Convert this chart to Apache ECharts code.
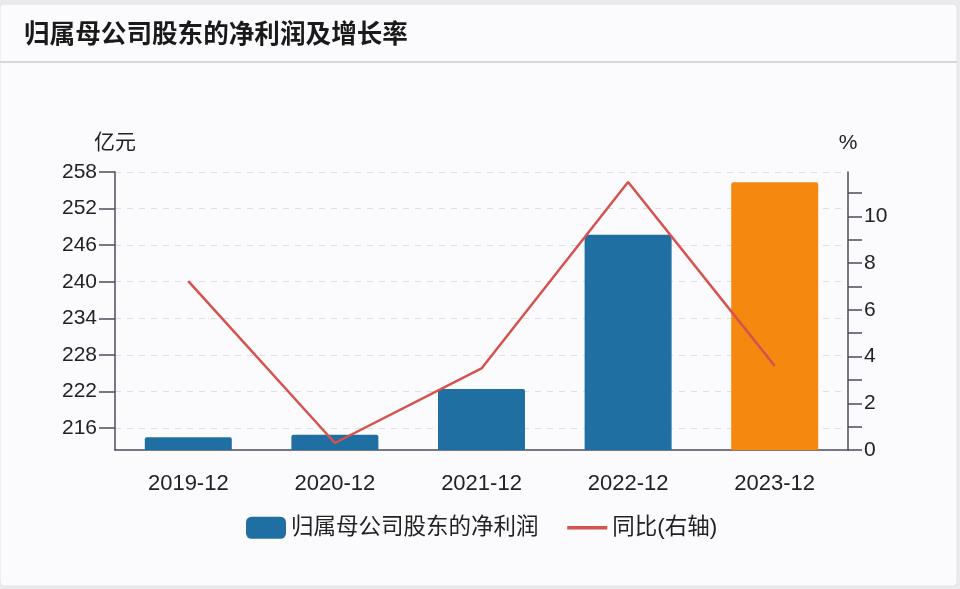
<!DOCTYPE html>
<html>
<head>
<meta charset="utf-8">
<script src="https://cdn.jsdelivr.net/npm/echarts@6/dist/echarts.min.js"></script>
<style>
html,body{margin:0;padding:0;background:#e9eaee;}
#c{width:960px;height:589px;}
</style>
</head>
<body>
<div id="c"></div>
<script>
const categories = ['2019-12', '2020-12', '2021-12', '2022-12', '2023-12'];
const netProfit = [214.5, 214.9, 222.4, 247.7, 256.3];
const yoyGrowth = [7.23, 0.30, 3.49, 11.47, 3.60];
const leftTicks = [216, 222, 228, 234, 240, 246, 252, 258];
const rightTicks = [0, 1, 2, 3, 4, 5, 6, 7, 8, 9, 10, 11];
const rightLabels = [0, 2, 4, 6, 8, 10];
const highlightIndex = 4;

const FONT = '"Liberation Sans", "Noto Sans CJK SC", sans-serif';
const BLUE = '#1f6fa2';
const ORANGE = '#f5890f';
const RED = '#d6524f';
const AXIS = '#4e4c5c';

const chart = echarts.init(document.getElementById('c'));
chart.setOption({
  animation: false,
  backgroundColor: 'transparent',
  textStyle: { fontFamily: FONT },
  graphic: [
    { type: 'rect', silent: true, z: -10, shape: { x: 0, y: 4, width: 957, height: 582, r: 4 },
      style: { fill: '#fbfbfd', stroke: '#e2e3e7', lineWidth: 1 } },
    { type: 'rect', silent: true, z: -9, shape: { x: 0, y: 61, width: 957, height: 2 },
      style: { fill: '#d4d6db' } }
  ],
  title: {
    text: '归属母公司股东的净利润及增长率',
    left: 19, top: 18,
    textStyle: { fontFamily: FONT, fontSize: 25.6, fontWeight: 'bold', color: '#1a1a1a' }
  },
  legend: {
    bottom: 45,
    left: 241,
    itemWidth: 40, itemHeight: 22, itemGap: 27,
    textStyle: { fontFamily: FONT, fontSize: 22.5, color: '#222' },
    data: [
      { name: '归属母公司股东的净利润', icon: 'roundRect' },
      { name: '同比(右轴)', itemStyle: { opacity: 0 }, lineStyle: { width: 3.5 } }
    ]
  },
  grid: { left: 115, right: 112, top: 172, bottom: 139 },
  xAxis: {
    type: 'category',
    data: categories,
    axisLine: { lineStyle: { color: AXIS, width: 1.5 } },
    axisTick: { alignWithLabel: true, length: 15, lineStyle: { color: AXIS, width: 1.5 } },
    axisLabel: { fontFamily: FONT, fontSize: 22, color: '#222', margin: 23 }
  },
  yAxis: [
    {
      type: 'value',
      name: '亿元',
      nameLocation: 'end',
      nameGap: 18,
      nameTextStyle: { fontFamily: FONT, fontSize: 21, color: '#222' },
      min: 212.4, max: 258,
      axisLine: { show: true, lineStyle: { color: AXIS, width: 1.5 } },
      axisTick: { show: true, length: 16, customValues: leftTicks, lineStyle: { color: AXIS, width: 1.5 } },
      axisLabel: { customValues: leftTicks, fontFamily: FONT, fontSize: 21, color: '#222', margin: 18 },
      splitLine: { show: true, lineStyle: { color: '#dcdfe5', type: [6, 6], width: 1 } }
    },
    {
      type: 'value',
      name: '%',
      nameLocation: 'end',
      nameGap: 18,
      nameTextStyle: { fontFamily: FONT, fontSize: 21, color: '#222' },
      min: 0, max: 11.9,
      axisLine: { show: true, lineStyle: { color: AXIS, width: 1.5 } },
      axisTick: { show: true, length: 14, customValues: rightTicks, lineStyle: { color: AXIS, width: 1.5 } },
      axisLabel: { customValues: rightLabels, fontFamily: FONT, fontSize: 21, color: '#222', margin: 16 },
      splitLine: { show: false }
    }
  ],
  series: [
    {
      name: '归属母公司股东的净利润',
      type: 'bar',
      yAxisIndex: 0,
      barWidth: 87,
      itemStyle: { color: BLUE, borderRadius: [2, 2, 0, 0] },
      data: netProfit.map((v, i) => i === highlightIndex ? { value: v, itemStyle: { color: ORANGE } } : v)
    },
    {
      name: '同比(右轴)',
      type: 'line',
      yAxisIndex: 1,
      showSymbol: false,
      symbol: 'none',
      lineStyle: { color: RED, width: 2.5 },
      itemStyle: { color: RED },
      z: 5,
      data: yoyGrowth
    }
  ]
});
</script>
</body>
</html>
